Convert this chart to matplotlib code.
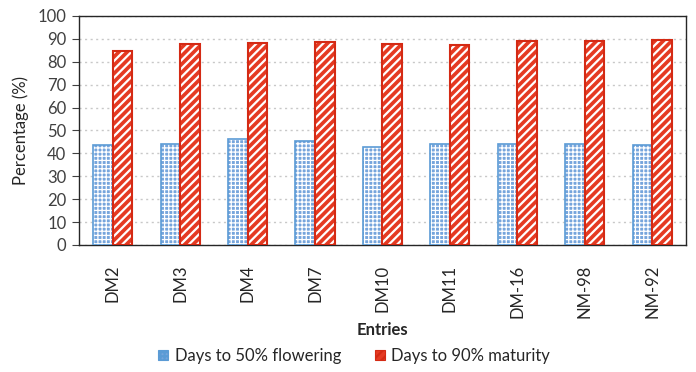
import matplotlib
matplotlib.use("Agg")
import matplotlib.pyplot as plt
from matplotlib.patches import Patch
import numpy as np

plt.rcParams['font.family'] = ['Lato', 'DejaVu Sans']

entries = ["DM2", "DM3", "DM4", "DM7", "DM10", "DM11", "DM-16", "NM-98", "NM-92"]
flowering = [43.6, 44.3, 46.2, 45.5, 42.9, 44.3, 43.9, 43.9, 43.6]
maturity = [84.5, 87.9, 88.2, 88.6, 87.9, 87.2, 88.9, 89.2, 89.6]
series_names = ["Days to 50% flowering", "Days to 90% maturity"]

blue_face = "#76A5DC"
blue_edge = "#5B9BD5"
red_face = "#E53A22"
red_edge = "#D42A14"

fig = plt.figure(figsize=(6.96, 3.72), dpi=100)
ax = fig.add_axes([0.1135, 0.3414, 0.8721, 0.6156])

x = np.arange(len(entries))
w = 0.29

plt.rcParams['hatch.linewidth'] = 0.9
# flowering bars: blue fill with white lattice, then blue outline
ax.bar(x - w / 2, flowering, w, color=blue_face, hatch="++++", edgecolor="white",
       linewidth=0, zorder=3)
ax.bar(x - w / 2, flowering, w, fill=False, edgecolor=blue_edge, linewidth=1.2, zorder=4)

# maturity bars: red fill with white diagonal stripes, then red outline
plt.rcParams['hatch.linewidth'] = 1.6
ax.bar(x + w / 2, maturity, w, color=red_face, hatch="////", edgecolor="white",
       linewidth=0, zorder=3)
ax.bar(x + w / 2, maturity, w, fill=False, edgecolor=red_edge, linewidth=1.5, zorder=4)

ax.set_xlim(-0.5, len(entries) - 0.5)
ax.set_ylim(0, 100)
ax.set_yticks(np.arange(0, 101, 10))
ax.yaxis.grid(True, linestyle=(0, (1.5, 2.5)), color="#C8C8C8", linewidth=1.0, zorder=0)
ax.set_axisbelow(True)

ax.set_xticks(x)
ax.set_xticklabels(entries, rotation=90, fontsize=12, color="#262626")
ax.tick_params(axis="x", length=0, pad=14)
ax.tick_params(axis="y", labelsize=12, labelcolor="#404040", length=5, width=0.8,
               color="#404040", pad=4)

for s in ax.spines.values():
    s.set_color("#262626")
    s.set_linewidth(1.0)

ax.set_ylabel("Percentage (%)", fontsize=12, color="#262626", labelpad=6)
ax.set_xlabel("Entries", fontsize=12, fontweight="bold", color="#262626")
ax.xaxis.set_label_coords(0.5, -0.335)

handles = [
    Patch(facecolor=blue_face, edgecolor=blue_edge, hatch="++++", linewidth=0.8),
    Patch(facecolor=red_face, edgecolor=red_edge, hatch="////", linewidth=0.8),
]
fig.legend(handles, series_names, loc="center", bbox_to_anchor=(0.509, 0.043), ncol=2,
           frameon=False, fontsize=12, handlelength=0.6, handleheight=0.6,
           columnspacing=2.0, handletextpad=0.4, labelcolor="#262626")

fig.savefig("out.png", dpi=100)
